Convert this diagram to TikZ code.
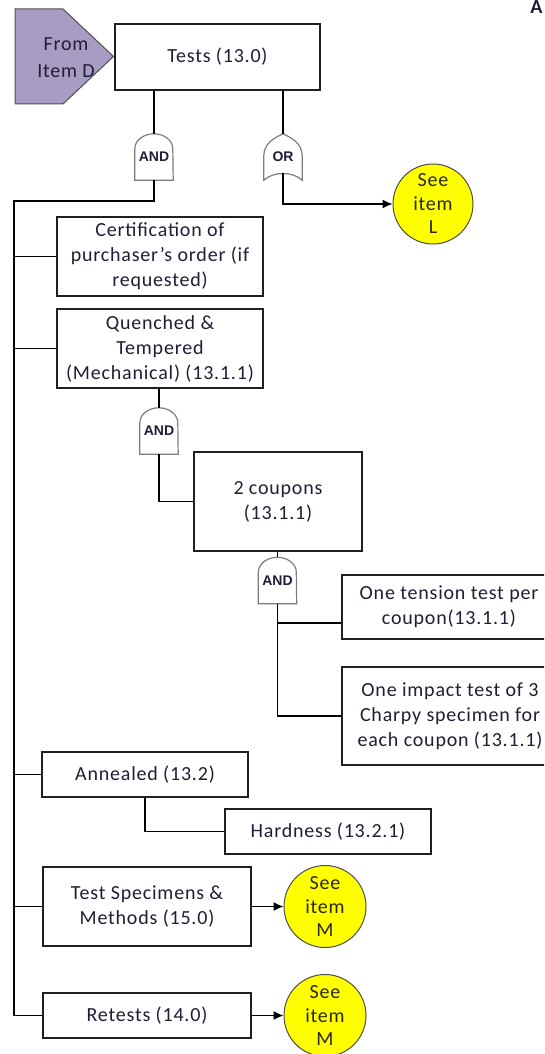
\documentclass[tikz,border=0pt]{standalone}
\usepackage{fontspec}
\setmainfont{Carlito}[LetterSpace=4]
\newfontfamily\gatefont{Liberation Sans}
\usetikzlibrary{arrows.meta}

\definecolor{txt}{RGB}{30,30,55}
\definecolor{lav}{RGB}{168,155,196}
\definecolor{lavline}{RGB}{80,80,80}
\definecolor{gateline}{RGB}{125,125,125}
\definecolor{seeyel}{RGB}{255,255,0}
\definecolor{seetxt}{RGB}{40,40,20}

% outline of an AND gate around an invisible gate node
\newcommand{\andshape}[1]{%
  \draw[gate] (#1.south west) -- ([yshift=-15pt]#1.north west)
    arc[start angle=180,end angle=0,x radius=19pt,y radius=15pt]
    -- (#1.south east) -- cycle;}
% outline of an OR gate around an invisible gate node
\newcommand{\orshape}[1]{%
  \draw[gate] (#1.north)
    .. controls ([xshift=-9pt,yshift=-4pt]#1.north) and ([yshift=-10pt]#1.north west) .. ([yshift=-22pt]#1.north west)
    -- (#1.south west)
    .. controls ([xshift=10pt,yshift=9pt]#1.south west) and ([xshift=-10pt,yshift=9pt]#1.south east) .. (#1.south east)
    -- ([yshift=-22pt]#1.north east)
    .. controls ([yshift=-10pt]#1.north east) and ([xshift=9pt,yshift=-4pt]#1.north) .. cycle;}

\begin{document}
\begin{tikzpicture}[x=1pt,y=-1pt,
  every node/.style={text=txt},
  box/.style={draw=black!88, line width=1.4pt, fill=white, align=center, inner sep=0pt,
    font=\fontsize{20}{25}\selectfont},
  gatenode/.style={minimum width=38pt, minimum height=46pt, inner sep=0pt,
    font=\gatefont\bfseries\fontsize{14}{14}\selectfont},
  gate/.style={draw=gateline, line width=1.2pt},
  seecircle/.style={circle, draw=black!70, line width=1pt, fill=seeyel, inner sep=0pt,
    minimum size=#1, align=center, text=seetxt, font=\fontsize{20}{23.5}\selectfont},
  conn/.style={draw=black, line width=1.3pt},
  arrowconn/.style={conn, -{Latex[length=10pt,width=9pt]}}]

\useasboundingbox (0,0) rectangle (544,1054);
\clip (0,0) rectangle (544,1054);

% heading letter at the top edge
\node[anchor=base, font=\bfseries\fontsize{20}{20}\selectfont] (hdr) at (536.5,13.5) {A};

% off-page entry
\filldraw[fill=lav, draw=lavline, line width=1pt] (15,9) -- (63,9) -- (113.5,56.5) -- (63,104) -- (15,104) -- cycle;
\node[align=center, font=\fontsize{20}{27}\selectfont] (itemD) at (66,58) {From\\Item D};

% boxes
\node[box, minimum width=205pt, minimum height=66pt] (tests) at (217.5,57) {Tests (13.0)};
\node[box, minimum width=206pt, minimum height=79pt] (cert) at (160,256.5)
  {Certification of\\purchaser’s order (if\\requested)};
\node[box, minimum width=206pt, minimum height=79pt] (quen) at (160,348.5)
  {Quenched \&\\Tempered\\(Mechanical) (13.1.1)};
\node[box, minimum width=168pt, minimum height=99pt] (coup) at (278,501.5) {2 coupons\\(13.1.1)};
\node[box, minimum width=210pt, minimum height=64pt] (tens) at (447,607)
  {\hspace*{4pt}One tension test per\\\hspace*{4pt}coupon(13.1.1)};
\node[box, minimum width=210pt, minimum height=98pt] (imp) at (447,716)
  {\hspace*{6pt}One impact test of 3\\\hspace*{6pt}Charpy specimen for\\\hspace*{6pt}each coupon (13.1.1)};
\node[box, minimum width=206pt, minimum height=45pt] (ann) at (145,774.5) {Annealed (13.2)};
\node[box, minimum width=206pt, minimum height=45pt] (hard) at (328,831.5) {Hardness (13.2.1)};
\node[box, minimum width=208pt, minimum height=79pt] (spec) at (147,906.5)
  {Test Specimens \&\\Methods (15.0)};
\node[box, minimum width=208pt, minimum height=45pt] (retest) at (147,1015.5) {Retests (14.0)};

% reference circles
\node[seecircle=80pt] (seeL) at (433,204) {See\\item\\L};
\node[seecircle=82pt] (seeM1) at (325,906.5) {See\\item\\M};
\node[seecircle=82pt] (seeM2) at (325,1015.5) {See\\item\\M};

% gates
\node[gatenode] (g1) at (154,157) {AND};
\node[gatenode] (gor) at (283,157) {OR};
\node[gatenode] (g2) at (159,431) {AND};
\node[gatenode] (g3) at (277.5,580.5) {AND};
\andshape{g1}
\orshape{gor}
\andshape{g2}
\andshape{g3}

% connectors
\coordinate (spTop) at (14,201);
\coordinate (tensIn) at ([yshift=-16pt]tens.west);

\draw[conn] (tests.south -| g1.north) -- (g1.north);
\draw[conn] (tests.south -| gor.north) -- (gor.north);
\draw[conn] (g1.south) |- (spTop) -- (spTop |- retest.west);
\draw[arrowconn] ([yshift=6.75pt]gor.south) |- (seeL.west);

\draw[conn] (spTop |- cert.west) -- (cert.west);
\draw[conn] (spTop |- quen.west) -- (quen.west);
\draw[conn] (spTop |- ann.west) -- (ann.west);
\draw[conn] (spTop |- spec.west) -- (spec.west);
\draw[conn] (spTop |- retest.west) -- (retest.west);

\draw[conn] (quen.south -| g2.north) -- (g2.north);
\draw[conn] (g2.south) |- (coup.west);
\draw[conn] (coup.south -| g3.north) -- (g3.north);
\draw[conn] (g3.south) |- (imp.west);
\draw[conn] (g3.south |- tensIn) -- (tensIn);

\draw[conn] (ann.south) |- (hard.west);

\draw[arrowconn] (spec.east) -- (seeM1.west);
\draw[arrowconn] (retest.east) -- (seeM2.west);
\end{tikzpicture}
\end{document}
